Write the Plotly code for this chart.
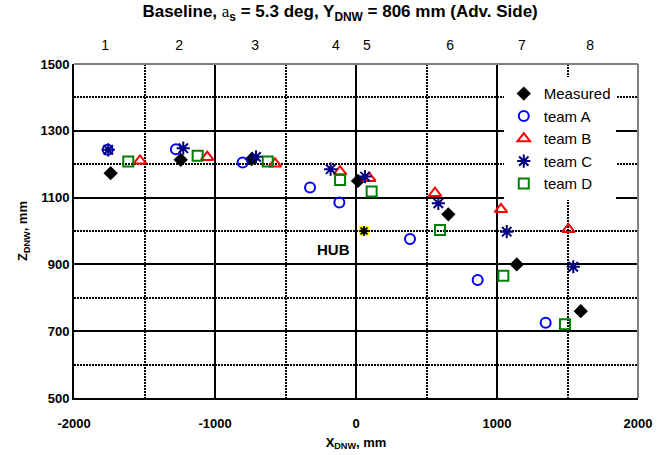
import plotly.graph_objects as go

# ---- data ----
measured_x = [-1740, -1243, -740, 14, 655, 1140, 1594]
measured_y = [1173, 1213, 1215, 1150, 1050, 900, 760]

teamA_x = [-1761, -1277, -804, -326, -118, 383, 863, 1345]
teamA_y = [1243, 1245, 1205, 1130, 1085, 976, 853, 725]

teamB_x = [-1532, -1055, -574, -113, 94, 560, 1028, 1506]
teamB_y = [1210, 1221, 1201, 1178, 1158, 1113, 1065, 1005]

teamC_x = [-1757, -1225, -709, -180, 64, 584, 1069, 1541]
teamC_y = [1243, 1248, 1222, 1185, 1163, 1083, 998, 893]

teamD_x = [-1615, -1123, -626, -113, 111, 596, 1045, 1482]
teamD_y = [1208, 1225, 1208, 1153, 1118, 1003, 866, 721]

hub_x = [57]
hub_y = [1000]

station_x = [-1780, -1255, -716, -142, 78, 667, 1177, 1660]
station_labels = ["1", "2", "3", "4", "5", "6", "7", "8"]

x_ticks = [-2000, -1000, 0, 1000, 2000]
x_tick_labels = ["-2000", "-1000", "0", "1000", "2000"]
y_ticks = [500, 700, 900, 1100, 1300, 1500]
y_tick_labels = ["500", "700", "900", "1100", "1300", "1500"]

FONT = "Liberation Sans, Arial, sans-serif"
DOT = "2px,1px"


def bold(labels):
    return ["<b>" + t + "</b>" for t in labels]


fig = go.Figure()

fig.add_trace(go.Scatter(x=hub_x, y=hub_y, mode="markers", showlegend=False,
                         marker=dict(symbol="square", size=10, color="#ffff00",
                                     line=dict(width=0))))
fig.add_trace(go.Scatter(x=hub_x, y=hub_y, mode="markers", showlegend=False,
                         marker=dict(symbol="asterisk-open", size=8, color="black",
                                     line=dict(width=2, color="black"))))

fig.add_trace(go.Scatter(x=measured_x, y=measured_y, mode="markers", name="Measured",
                         marker=dict(symbol="diamond", size=11, color="black",
                                     line=dict(width=0))))
fig.add_trace(go.Scatter(x=teamA_x, y=teamA_y, mode="markers", name="team A",
                         marker=dict(symbol="circle-open", size=10, color="#0000ff",
                                     line=dict(width=2, color="#0000ff"))))
fig.add_trace(go.Scatter(x=teamB_x, y=teamB_y, mode="markers", name="team B",
                         marker=dict(symbol="triangle-up-open", size=11, color="#ff0000",
                                     line=dict(width=2, color="#ff0000"))))
fig.add_trace(go.Scatter(x=teamC_x, y=teamC_y, mode="markers", name="team C",
                         marker=dict(symbol="asterisk-open", size=11, color="#000080",
                                     line=dict(width=2, color="#000080"))))
fig.add_trace(go.Scatter(x=teamD_x, y=teamD_y, mode="markers", name="team D",
                         marker=dict(symbol="square-open", size=10, color="#008000",
                                     line=dict(width=2, color="#008000"))))

# invisible trace on the top axis carrying station positions
fig.add_trace(go.Scatter(x=station_x, y=[1500] * len(station_x), xaxis="x2",
                         mode="markers", showlegend=False, hoverinfo="skip",
                         marker=dict(opacity=0)))

fig.update_layout(
    width=663, height=455,
    margin=dict(l=74, r=25, t=64, b=57, autoexpand=False),
    paper_bgcolor="white", plot_bgcolor="white",
    font=dict(family=FONT, color="black"),
    title=dict(
        text="<b>Baseline, <span style=\"font-family:'Liberation Serif';font-weight:normal\">a</span>"
             "<sub>s</sub> = 5.3 deg, Y<sub>DNW</sub> = 806 mm (Adv. Side)</b>",
        x=0.513, xanchor="center", y=0.975, yanchor="middle", yref="container",
        font=dict(size=17, family=FONT, color="black")),
    xaxis=dict(
        range=[-2000, 2000], tickmode="array", tickvals=x_ticks, ticktext=bold(x_tick_labels),
        showgrid=True, gridcolor="black", gridwidth=2,
        minor=dict(dtick=500, tick0=-2000, showgrid=True, gridcolor="black",
                   griddash=DOT, gridwidth=2),
        showline=True, linecolor="black", linewidth=2, automargin=False,
        zeroline=False, ticks="", tickfont=dict(size=13, family=FONT),
        ticklabelstandoff=12,
        title=dict(text="<b>X<sub>DNW</sub>, mm</b>", font=dict(size=13, family=FONT), standoff=8),
    ),
    xaxis2=dict(
        range=[-2000, 2000], overlaying="x", side="top", anchor="y",
        tickmode="array", tickvals=station_x, ticktext=station_labels,
        showgrid=False, showline=False, zeroline=False, ticks="", automargin=False,
        tickfont=dict(size=14, family=FONT), ticklabelstandoff=10,
    ),
    yaxis=dict(
        range=[500, 1500], tickmode="array", tickvals=y_ticks, ticktext=bold(y_tick_labels),
        showgrid=True, gridcolor="black", gridwidth=2,
        minor=dict(dtick=100, tick0=500, showgrid=True, gridcolor="black",
                   griddash=DOT, gridwidth=2),
        showline=True, linecolor="black", linewidth=2, automargin=False,
        zeroline=False, ticks="", tickfont=dict(size=13, family=FONT),
        title=dict(text="<b>Z<sub>DNW</sub>, mm</b>", font=dict(size=13, family=FONT), standoff=10),
    ),
    legend=dict(
        x=0.762, y=0.96, xanchor="left", yanchor="top",
        bgcolor="white", borderwidth=0,
        font=dict(size=15, family=FONT, color="black"),
        itemwidth=30, tracegroupgap=0,
    ),
    annotations=[dict(
        x=-30, y=945, xref="x", yref="y", text="<b>HUB</b>", showarrow=False,
        xanchor="right", yanchor="middle", font=dict(size=15, family=FONT, color="black"))],
    shapes=[
        dict(type="line", xref="paper", yref="paper", x0=0, x1=1, y0=1, y1=1,
             line=dict(color="#808080", width=2), layer="above"),
        dict(type="line", xref="paper", yref="paper", x0=1, x1=1, y0=0, y1=1,
             line=dict(color="#808080", width=2), layer="above"),
    ],
)

fig.write_html("out.html")
